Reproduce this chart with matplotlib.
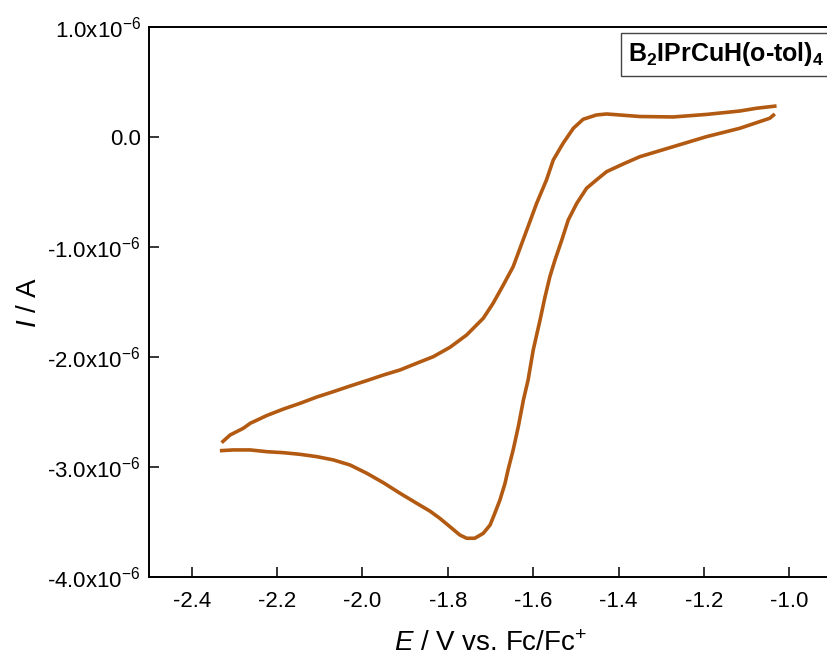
import matplotlib
matplotlib.use("Agg")
import matplotlib.pyplot as plt
from matplotlib.ticker import FuncFormatter

# cathodic scan (going negative), E in V vs Fc/Fc+, I in microamps
fwd_E = [-1.034, -1.046, -1.116, -1.194, -1.272, -1.350, -1.389, -1.428, -1.452, -1.475,
         -1.498, -1.518, -1.533, -1.549, -1.561, -1.573, -1.584, -1.600, -1.612, -1.623,
         -1.635, -1.647, -1.659, -1.666, -1.678, -1.690, -1.701, -1.717, -1.737, -1.756,
         -1.772, -1.795, -1.819, -1.842, -1.873, -1.912, -1.951, -1.990, -2.029, -2.068,
         -2.107, -2.146, -2.185, -2.224, -2.263, -2.303, -2.334]
fwd_I = [0.209, 0.170, 0.079, 0.003, -0.088, -0.179, -0.245, -0.315, -0.391, -0.466,
         -0.603, -0.755, -0.936, -1.118, -1.270, -1.464, -1.664, -1.936, -2.209, -2.391,
         -2.634, -2.845, -3.027, -3.148, -3.300, -3.421, -3.527, -3.603, -3.648, -3.648,
         -3.618, -3.543, -3.466, -3.401, -3.330, -3.239, -3.143, -3.057, -2.982, -2.936,
         -2.906, -2.885, -2.870, -2.861, -2.845, -2.845, -2.852]

# anodic scan (coming back)
rev_E = [-2.330, -2.310, -2.279, -2.263, -2.224, -2.185, -2.146, -2.107, -2.068, -2.029,
         -1.990, -1.951, -1.912, -1.873, -1.834, -1.795, -1.756, -1.717, -1.694, -1.670,
         -1.647, -1.615, -1.592, -1.569, -1.553, -1.530, -1.506, -1.483, -1.452, -1.428,
         -1.350, -1.272, -1.194, -1.116, -1.077, -1.030]
rev_I = [-2.779, -2.709, -2.648, -2.603, -2.532, -2.473, -2.421, -2.364, -2.315, -2.264,
         -2.215, -2.164, -2.118, -2.057, -1.997, -1.912, -1.800, -1.648, -1.512, -1.345,
         -1.179, -0.845, -0.603, -0.391, -0.209, -0.057, 0.079, 0.161, 0.200, 0.209,
         0.186, 0.182, 0.205, 0.236, 0.261, 0.282]

x_ticks = [-2.4, -2.2, -2.0, -1.8, -1.6, -1.4, -1.2, -1.0]
y_ticks = [-4e-6, -3e-6, -2e-6, -1e-6, 0.0, 1e-6]
label = r"B$_\mathbf{2}$IPrCuH(o-tol)$_\mathbf{4}$"

plt.rcParams["font.family"] = ["Liberation Sans", "DejaVu Sans"]
plt.rcParams["mathtext.fontset"] = "custom"
plt.rcParams["mathtext.rm"] = "Liberation Sans"
plt.rcParams["mathtext.it"] = "Liberation Sans:italic"
plt.rcParams["mathtext.bf"] = "Liberation Sans:bold"
plt.rcParams["mathtext.default"] = "regular"

fig = plt.figure(figsize=(8.27, 6.61), dpi=100)
# right spine sits just past the image edge in the original
ax = fig.add_axes([0.1802, 0.1271, 0.8259, 0.8321])

color = "#B35A12"
ax.plot(fwd_E, [v * 1e-6 for v in fwd_I], color=color, lw=2.6, solid_capstyle="butt")
ax.plot(rev_E, [v * 1e-6 for v in rev_I], color=color, lw=2.6, solid_capstyle="butt")

ax.set_xlim(-2.5, -0.9)
ax.set_ylim(-4e-6, 1e-6)
ax.set_xticks(x_ticks)
ax.set_yticks(y_ticks)
ax.xaxis.set_major_formatter(FuncFormatter(lambda v, p: "%.1f" % v))


def yfmt(v, p):
    if abs(v) < 1e-12:
        return "0.0"
    return "%.1fx10$^{-6}$" % (v * 1e6)


ax.yaxis.set_major_formatter(FuncFormatter(yfmt))
ax.tick_params(direction="in", length=7, width=1.1, labelsize=16)
ax.tick_params(axis="x", pad=10)
ax.tick_params(axis="y", pad=6)
for s in ax.spines.values():
    s.set_linewidth(1.4)

ax.set_xlabel(r"$\mathit{E}$ / V vs. Fc/Fc$^{+}$", fontsize=20, labelpad=14)
ax.set_ylabel(r"$\mathit{I}$ / A", fontsize=20, labelpad=4)

ax.text(0.845, 0.95, label, transform=ax.transAxes, ha="center", va="center",
        fontsize=18, fontweight="bold",
        bbox=dict(boxstyle="square,pad=0.3", fc="white", ec="#444444", lw=1.0))

plt.savefig("out.png", dpi=100)
